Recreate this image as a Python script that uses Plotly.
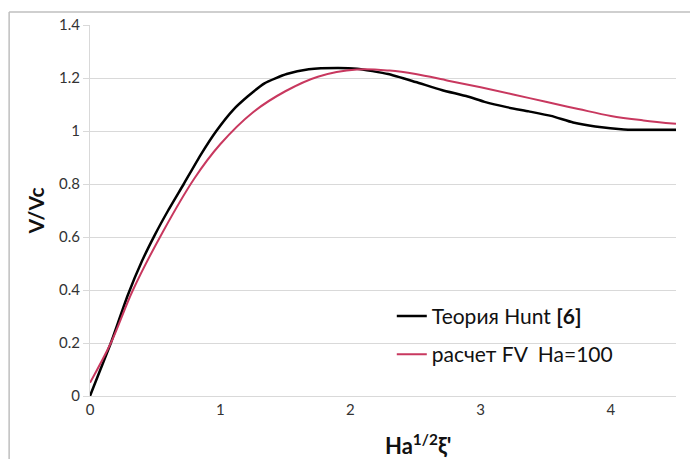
import plotly.graph_objects as go

# Theory Hunt [6]
hunt_x = [0, 0.08, 0.16, 0.29, 0.4, 0.5, 0.6, 0.72, 0.85, 0.97, 1.1, 1.21, 1.34, 1.51, 1.68,
          1.9, 2.05, 2.29, 2.5, 2.7, 2.9, 3.03, 3.2, 3.37, 3.54, 3.71, 3.88, 4.1, 4.5]
hunt_y = [0, 0.1, 0.2, 0.38, 0.51, 0.61, 0.7, 0.8, 0.91, 1.0, 1.08, 1.13, 1.18, 1.215, 1.233,
          1.238, 1.235, 1.215, 1.185, 1.155, 1.13, 1.11, 1.09, 1.074, 1.057, 1.032, 1.017, 1.006, 1.005]

# FV calculation Ha=100
fv_x = [0, 0.16, 0.33, 0.56, 0.8, 1.0, 1.25, 1.5, 1.75, 2.05, 2.3, 2.5, 2.75, 3.0,
        3.25, 3.5, 3.75, 4.0, 4.25, 4.5]
fv_y = [0.05, 0.2, 0.4, 0.62, 0.82, 0.95, 1.07, 1.15, 1.205, 1.232, 1.228, 1.215, 1.19,
        1.165, 1.138, 1.11, 1.083, 1.057, 1.04, 1.027]

x_ticks = [0, 1, 2, 3, 4]
y_ticks = [0, 0.2, 0.4, 0.6, 0.8, 1.0, 1.2, 1.4]
y_tick_labels = ["0", "0.2", "0.4", "0.6", "0.8", "1", "1.2", "1.4"]

FONT = "Lato, 'Open Sans', sans-serif"

fig = go.Figure()
fig.add_trace(go.Scatter(x=hunt_x, y=hunt_y, mode="lines", name="Теория Hunt <b>[6]</b>",
                         line=dict(color="#000000", width=2.5, shape="spline", smoothing=0.5),
                         legendgroup="a"))
fig.add_trace(go.Scatter(x=fv_x, y=fv_y, mode="lines", name="расчет FV  Ha=100",
                         line=dict(color="#C8385F", width=2, shape="spline", smoothing=1.0),
                         legendgroup="b"))

fig.update_layout(
    width=690, height=459,
    margin=dict(l=90, r=14, t=25, b=63),
    paper_bgcolor="white", plot_bgcolor="white",
    font=dict(family=FONT, color="#333333"),
    legend=dict(x=0.515, y=0.27, xanchor="left", yanchor="top",
                font=dict(size=21, color="#111111"), tracegroupgap=8,
                bgcolor="rgba(0,0,0,0)", itemwidth=30),
    xaxis=dict(range=[0, 4.5], tickvals=x_ticks, showgrid=False, zeroline=False,
               showline=True, linecolor="#d9d9d9", linewidth=1,
               ticks="", tickfont=dict(size=15, color="#333333")),
    yaxis=dict(range=[0, 1.4], tickvals=y_ticks, ticktext=y_tick_labels,
               showgrid=True, gridcolor="#d9d9d9", gridwidth=1, zeroline=False,
               showline=True, linecolor="#d9d9d9", linewidth=1,
               ticks="outside", ticklen=6, tickcolor="#d9d9d9",
               tickfont=dict(size=15, color="#333333"),
               title=dict(text="<b>V/Vc</b>", font=dict(size=21, color="#111111"), standoff=8)),
    annotations=[dict(text="<b>Ha<sup>1/2</sup>ξ'</b>", xref="paper", yref="paper",
                      x=0.56, y=-0.085, xanchor="center", yanchor="top", showarrow=False,
                      font=dict(size=22, color="#111111"))],
    shapes=[
        dict(type="line", xref="paper", yref="paper", x0=-0.138, x1=-0.138, y0=-0.2, y1=1.035,
             line=dict(color="#bfbfbf", width=1.5)),
        dict(type="line", xref="paper", yref="paper", x0=-0.138, x1=1.03, y0=1.035, y1=1.035,
             line=dict(color="#bfbfbf", width=1.5)),
    ],
)

fig.write_html("out.html")
